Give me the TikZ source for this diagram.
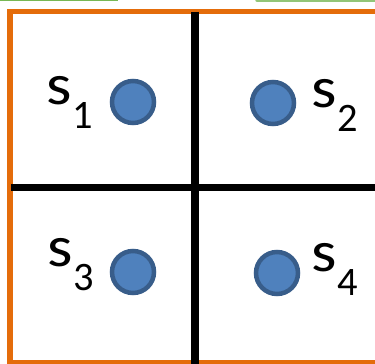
\documentclass[tikz,border=0pt]{standalone}
\usepackage{fontspec}
\setmainfont{Carlito}
\definecolor{frameorange}{HTML}{E46C0A}
\definecolor{dotblue}{HTML}{4F81BD}
\definecolor{dotedge}{HTML}{385D8A}
\definecolor{tabgreen}{HTML}{77B755}
\newcommand\subidx[1]{\kern0.5pt\raisebox{-13.5pt}{\fontsize{23}{23}\selectfont #1}}

\begin{document}
\begin{tikzpicture}[x=0.02cm,y=-0.02cm,
  dot/.style={circle,draw=dotedge,fill=dotblue,line width=0.09cm,minimum size=0.84cm,inner sep=0},
  lbl/.style={anchor=base west,inner sep=0,font=\fontsize{33}{33}\selectfont}]
\useasboundingbox (0,0) rectangle (375,364);
\fill[white] (0,0) rectangle (375,364);
% tabs at the top
\draw[tabgreen,line width=0.05cm] (0,0) -- (118,0);
\draw[tabgreen!80,line width=0.07cm,line cap=round] (257,0) -- (390,0);
% frame and cross
\draw[frameorange,line width=0.105cm] (10,11.5) rectangle (400,362.5);
\draw[line width=0.16cm] (195,12) -- (195,370);
\draw[line width=0.125cm] (11,187.5) -- (380,187.5);
% states
\node[dot] (dot1) at (133,102) {};
\node[dot] (dot2) at (273,103) {};
\node[dot] (dot3) at (133,272) {};
\node[dot] (dot4) at (277,273) {};
\node[lbl] (lbl1) at (46,105) {\scalebox{1.12}[1]{s}\subidx{1}};
\node[lbl] (lbl2) at (311,108) {\scalebox{1.12}[1]{s}\subidx{2}};
\node[lbl] (lbl3) at (47,267) {\scalebox{1.12}[1]{s}\subidx{3}};
\node[lbl] (lbl4) at (311,272) {\scalebox{1.12}[1]{s}\subidx{4}};
\end{tikzpicture}
\end{document}
